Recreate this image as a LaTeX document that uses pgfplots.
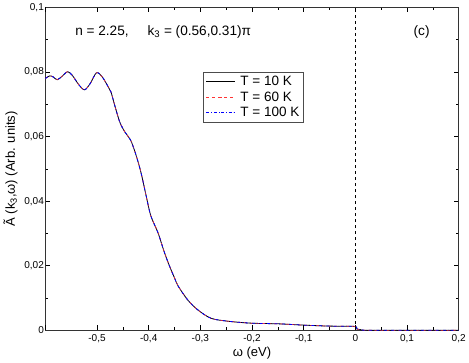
\documentclass[border=0pt]{standalone}
\usepackage{fontspec}
\setmainfont{Liberation Sans}
\usepackage{pgfplots}
\pgfplotsset{compat=1.18}

\pgfplotstableread{
w A
-0.600 0.0780
-0.592 0.0788
-0.585 0.0785
-0.577 0.0776
-0.567 0.0788
-0.557 0.0801
-0.548 0.0790
-0.535 0.0760
-0.524 0.0745
-0.513 0.0765
-0.501 0.0798
-0.490 0.0785
-0.479 0.0756
-0.473 0.0738
-0.466 0.0698
-0.456 0.0645
-0.446 0.0614
-0.435 0.0589
-0.425 0.0545
-0.415 0.0489
-0.405 0.0417
-0.396 0.0355
-0.382 0.0302
-0.370 0.0243
-0.360 0.0200
-0.350 0.0162
-0.343 0.0137
-0.324 0.0093
-0.304 0.0062
-0.279 0.0037
-0.246 0.0028
-0.201 0.0022
-0.148 0.0020
-0.100 0.0016
-0.051 0.0013
-0.002 0.0012
0.003 0.0004
0.010 0.0002
0.030 0.0
0.200 0.0
}\spec

\begin{document}
\begin{tikzpicture}
\begin{axis}[
  scale only axis,
  width=411bp, height=321bp,
  xmin=-0.6, xmax=0.2, ymin=0, ymax=0.1,
  xtick={-0.5,-0.4,-0.3,-0.2,-0.1,0,0.1,0.2},
  extra x ticks={-0.6}, extra x tick labels={},
  ytick={0,0.02,0.04,0.06,0.08,0.1},
  minor x tick num=1, minor y tick num=1,
  tick align=inside,
  major tick length=5bp, minor tick length=3bp,
  tick style={black, line width=0.6pt},
  axis line style={line width=0.8pt, black!80},
  /pgf/number format/.cd, fixed, use comma, 1000 sep={}, assume math mode=true,
  /pgfplots/.cd,
  scaled ticks=false,
  y tick label style={/pgf/number format/precision=2},
  ticklabel style={font=\fontsize{10}{12}\selectfont},
  xticklabel style={yshift=-1bp},
  yticklabel style={xshift=2bp},
  xlabel={ω (eV)},
  ylabel={Ã (k\textsubscript{3},ω) (Arb. units)},
  label style={font=\fontsize{13}{15}\selectfont},
  xlabel style={yshift=3bp},
  ylabel style={yshift=0bp},
  legend style={at={(0.382,0.80)}, anchor=north west, draw=black!70,
    nodes={font=\fontsize{13.5}{14}\selectfont, inner sep=1.5bp},
    row sep=1.5bp, inner sep=2.5bp,
    /tikz/every odd column/.append style={column sep=3bp}},
  legend image post style={xscale=1.7},
  legend cell align=left,
  clip=false,
]
\addplot[black, line width=0.8pt, smooth] table[x=w,y=A]{\spec};
\addlegendentry{T = 10 K}
\addplot[red!80, dashed, line width=0.6pt, smooth] table[x=w,y=A]{\spec};
\addlegendentry{T = 60 K}
\addplot[blue, dash dot, line width=0.8pt, smooth] table[x=w,y=A]{\spec};
\addlegendentry{T = 100 K}
\addplot[black, dashed, line width=0.6pt, forget plot] coordinates {(0,0) (0,0.1)};
\node[anchor=base west, font=\fontsize{13.6}{15}\selectfont] at (axis cs:-0.549,0.0913) {n = 2.25,};
\node[anchor=base west, font=\fontsize{13.6}{15}\selectfont] at (axis cs:-0.409,0.0913) {k\textsubscript{3} = (0.56,0.31)π};
\node[anchor=base west, font=\fontsize{13.6}{15}\selectfont] at (axis cs:0.106,0.0913) {(c)};
\end{axis}
\end{tikzpicture}
\end{document}
